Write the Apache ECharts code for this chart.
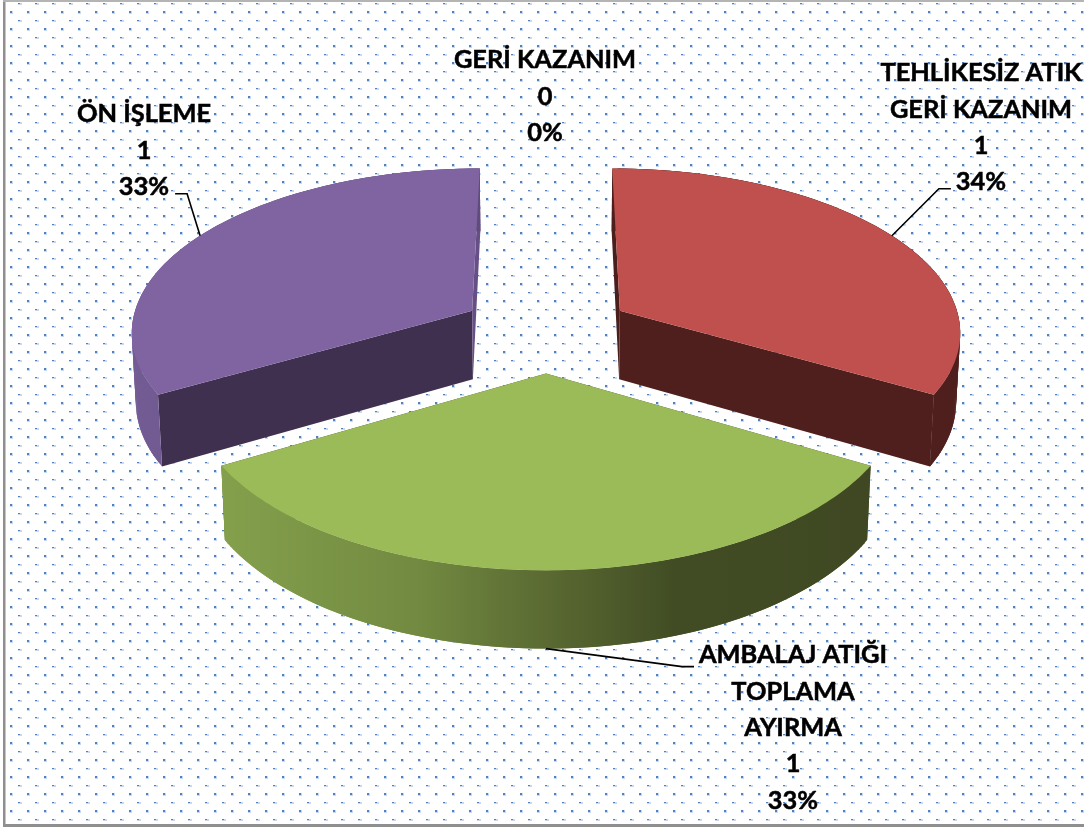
<!DOCTYPE html>
<html>
<head>
<meta charset="utf-8">
<style>html,body{margin:0;padding:0;background:#fff}#c{width:1084px;height:827px}</style>
<script src="https://cdn.jsdelivr.net/npm/echarts@6/dist/echarts.min.js"></script>
</head>
<body>
<div id="c"></div>
<script>
// ---- data ----
const categories = ['GERİ KAZANIM', 'TEHLİKESİZ ATIK\nGERİ KAZANIM', 'AMBALAJ ATIĞI\nTOPLAMA\nAYIRMA', 'ÖN İŞLEME'];
const values = [0, 1, 1, 1];
const percentLabels = ['0%', '34%', '33%', '33%'];

// ---- styles ----
const topColors = ['#4F81BD', '#C0504D', '#9BBB59', '#8064A2'];
const frontCutColors = ['#2a4565', '#4F1F1D', '#3c4a20', '#3F3050'];
const backCutColors = ['#2a4565', '#4A1E1B', '#3c4a20', '#654F85'];
const wallStops = [
  [[0, '#2a4565'], [1, '#2a4565']],
  [[0, '#4F1F1D'], [1, '#4F1F1D']],
  [[0, '#84A04C'], [0.3, '#728A41'], [0.5, '#5A6A32'], [0.7, '#414C24'], [1, '#3F4822']],
  [[0, '#735B94'], [1, '#5F4C7C']]
];
const labelCentres = [[545, 60], [981, 73], [793, 655], [144, 114]];
const elbowOffsets = [null, [[47, -47], [59, -47]], [[136, 18], [148, 18]], [[-13, -42], [-25, -42]]];

// ---- perspective model of the disc ----
const view = { cx: 546, yv: -1071, A: 1402, p: 0.1164, s: 342, r: 0.010, h: 84, explode: 0.253 };
function project(X, Y, Z) {
  const w = 1 - view.p * Y + view.r * Z;
  return [view.cx + view.s * X / w, view.yv + (view.A + view.h * Z) / w];
}
const total = values.reduce((a, b) => a + b, 0);
const spans = [];
values.reduce((acc, v) => { const next = acc + v / total * 360; spans.push([acc, next]); return next; }, 0);
const rad = d => d * Math.PI / 180;

function makePattern() {
  const c = document.createElement('canvas');
  c.width = 17; c.height = 17;
  const g = c.getContext('2d');
  g.fillStyle = '#fff'; g.fillRect(0, 0, 17, 17);
  g.fillStyle = '#c6d9f0'; g.fillRect(10, 11, 3, 3); g.fillRect(1, 3, 4, 2);
  g.fillStyle = '#4F81BD'; g.fillRect(10, 11, 2, 2); g.fillRect(1, 3, 2, 1);
  return c;
}

function renderSlice(params, api) {
  const i = params.dataIndex;
  const span = spans[i];
  const children = [];
  const midDeg = (span[0] + span[1]) / 2;
  const mid = rad(midDeg);
  const ox = view.explode * Math.sin(mid), oy = -view.explode * Math.cos(mid);
  const rim = (deg, Z) => project(ox + Math.sin(rad(deg)), oy - Math.cos(rad(deg)), Z);
  const apex = Z => project(ox, oy, Z);

  if (api.value(0) > 0) {
    const topArc = [];
    for (let d = span[0]; d <= span[1] + 1e-6; d += 1) topArc.push(rim(d, 0));
    // cut faces go first so that the outer wall and the top cover the hidden parts
    [span[0], span[1]].forEach(function (d) {
      children.push({
        type: 'polygon',
        shape: { points: [apex(0), rim(d, 0), rim(d, 1), apex(1)] },
        style: { fill: Math.cos(rad(d)) > 0.5 ? backCutColors[i] : frontCutColors[i] }
      });
    });
    // outer wall: swept as strips so its silhouette stays closed
    const xs = topArc.map(p => p[0]);
    const x0 = Math.min.apply(null, xs), x1 = Math.max.apply(null, xs);
    const wallFill = new echarts.graphic.LinearGradient(x0, 0, x1, 0,
      wallStops[i].map(s => ({ offset: s[0], color: s[1] })), true);
    for (let d = span[0]; d < span[1] - 1e-6; d += 1) {
      const e = Math.min(d + 2, span[1]);
      children.push({
        type: 'polygon',
        shape: { points: [rim(d, 0), rim(e, 0), rim(e, 1), rim(d, 1)] },
        style: { fill: wallFill }
      });
    }
    children.push({
      type: 'polygon', shape: { points: [apex(0)].concat(topArc) },
      style: { fill: topColors[i] }
    });
    // leader line: starts at the middle of the arc
    const isFront = Math.cos(mid) < -0.5;
    const s = rim(midDeg, isFront ? 1 : 0);
    const el = elbowOffsets[i];
    children.push({
      type: 'polyline',
      shape: { points: [s, [s[0] + el[0][0], s[1] + el[0][1]], [s[0] + el[1][0], s[1] + el[1][1]]] },
      style: { stroke: '#000', lineWidth: 1.6, fill: null }
    });
  }
  const lines = categories[i].split('\n').concat([String(values[i]), percentLabels[i]]);
  lines.forEach(function (t, k) {
    children.push({
      type: 'text',
      style: {
        text: t, x: labelCentres[i][0], y: labelCentres[i][1] + k * 36.4,
        fill: '#000', stroke: '#000', lineWidth: 0.5,
        font: 'bold 25.4px Lato', align: 'center', verticalAlign: 'middle'
      }
    });
  });
  return { type: 'group', children: children };
}

const chart = echarts.init(document.getElementById('c'), null, { renderer: 'canvas' });
chart.setOption({
  animation: false,
  backgroundColor: { image: makePattern(), repeat: 'repeat' },
  graphic: [
    { type: 'rect', shape: { x: 0, y: 0, width: 3, height: 827 }, style: { fill: '#fff' }, z: 1 },
    { type: 'rect', shape: { x: 3, y: 0, width: 2.5, height: 826 }, style: { fill: '#8f8f8f' }, z: 1 },
    { type: 'rect', shape: { x: 3, y: 0, width: 1081, height: 2 }, style: { fill: '#b4b4b4' }, z: 1 },
    { type: 'rect', shape: { x: 3, y: 824, width: 1081, height: 3 }, style: { fill: '#8f8f8f' }, z: 1 }
  ],
  series: [{
    type: 'custom',
    coordinateSystem: 'none',
    renderItem: renderSlice,
    silent: true,
    data: values.map(v => [v])
  }]
});
</script>
</body>
</html>
